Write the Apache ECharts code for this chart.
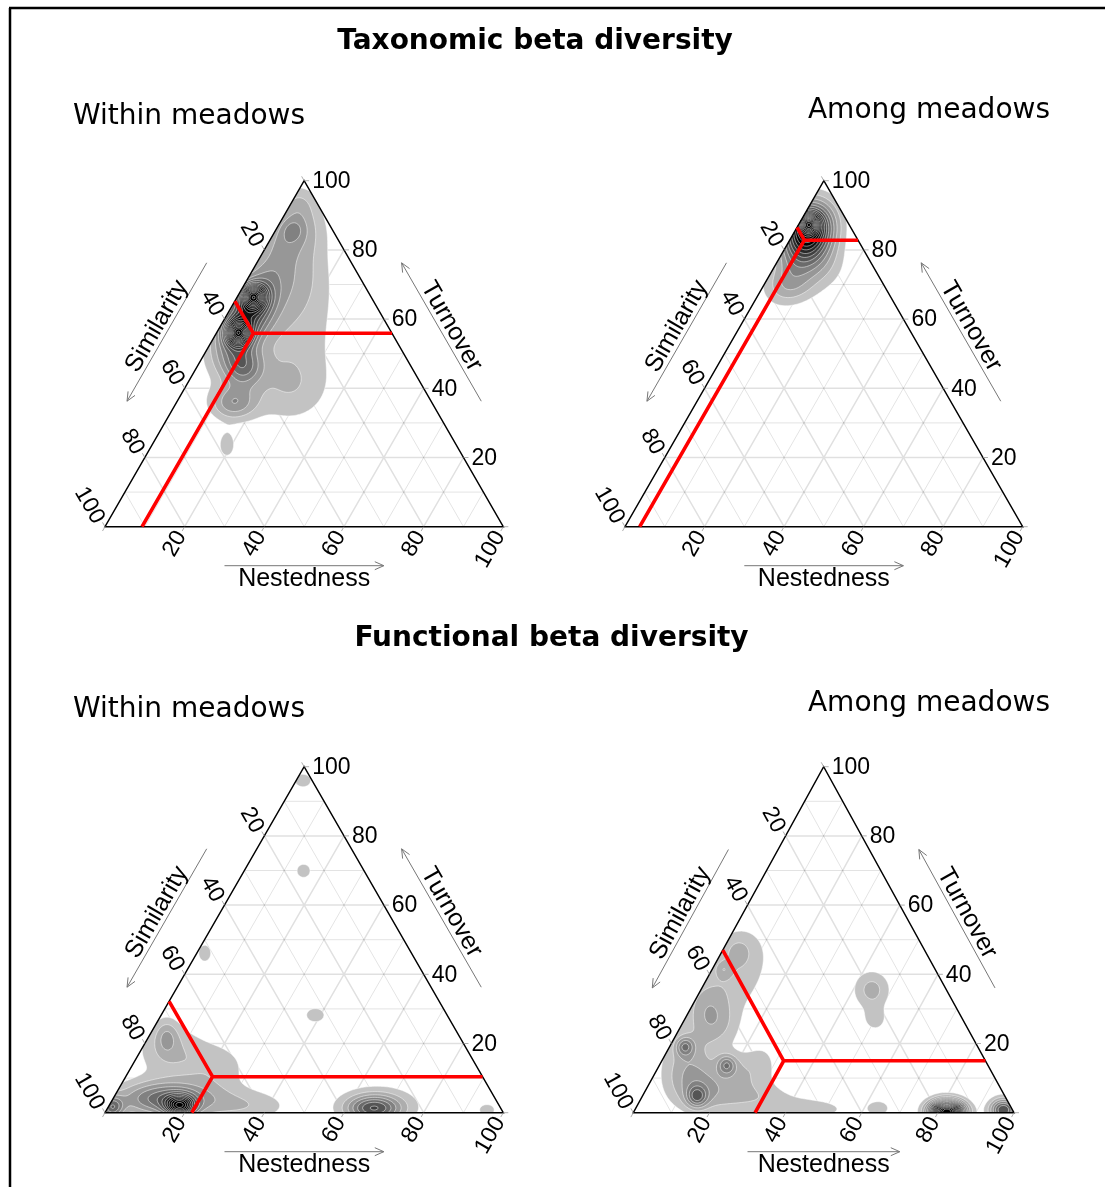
<!DOCTYPE html>
<html><head><meta charset="utf-8">
<script src="https://cdn.jsdelivr.net/npm/echarts@6.0.0/dist/echarts.min.js"></script>
<style>html,body{margin:0;padding:0;background:#fff;}#chart{width:1105px;height:1187px;}</style>
</head><body><div id="chart"></div>
<script>
// ---------------- data ----------------
const sectionTitles = ['Taxonomic beta diversity', 'Functional beta diversity'];
const panelLabels = ['Within meadows', 'Among meadows', 'Within meadows', 'Among meadows'];
const axisNameLeft = 'Similarity';
const axisNameRight = 'Turnover';
const axisNameBottom = 'Nestedness';
const tickLabels = [20, 40, 60, 80, 100];
const tickMarks = [0, 20, 40, 60, 80, 100];
const gridValues = [10, 20, 30, 40, 50, 60, 70, 80, 90];

// mean composition: [similarity, turnover, nestedness]
const meanTaxWithin = [34.8, 55.9, 9.3];
const meanTaxAmong = [13.5, 82.8, 3.7];
const meanFunWithin = [67.8, 10.4, 21.8];
const meanFunAmong = [53.0, 15.0, 32.0];

// density kernels: [nestedness, turnover, weight, spreadA, spreadB, angleDeg]
const kdeTaxWithin = [
  [4.0, 66.5, 0.55, 2.0, 2.0, 0],
  [5.5, 55.9, 0.55, 2.0, 2.0, 0],
  [5.0, 61.0, 0.40, 8.0, 4.0, 60],
  [3.0, 84.0, 0.11, 6.0, 3.5, 60],
  [4.3, 85.7, 0.06, 2.0, 2.0, 0],
  [1.5, 94.0, 0.06, 3.0, 3.0, 0],
  [11.6, 46.2, 0.22, 3.5, 3.5, 0],
  [14.3, 35.8, 0.18, 4.0, 3.0, 0],
  [18.0, 58.0, 0.08, 8.0, 12.0, 0],
  [26.0, 40.0, 0.07, 7.0, 6.0, 0],
  [12.0, 74.0, 0.07, 5.0, 7.0, 0],
  [8.0, 86.0, 0.06, 4.0, 5.0, 0],
  [18.8, 23.6, 0.075, 1.8, 2.8, 0]
];
const kdeTaxAmong = [
  [2.5, 87.5, 0.45, 1.6, 1.6, 0],
  [3.0, 86.0, 0.55, 4.8, 4.2, 60],
  [5.0, 76.0, 0.13, 6.5, 3.8, 60],
  [11.0, 76.0, 0.09, 4.5, 4.5, 0],
  [7.0, 69.0, 0.07, 4.5, 3.0, 0]
];
const kdeFunWithin = [
  [17.9, 1.9, 0.45, 2.5, 1.8, 0],
  [13.0, 4.0, 0.28, 8.0, 3.0, 0],
  [1.0, 1.5, 0.25, 2.0, 2.0, 0],
  [4.5, 22.0, 0.10, 2.0, 3.0, 0],
  [7.0, 18.0, 0.09, 6.0, 5.0, 0],
  [21.0, 13.0, 0.08, 6.0, 4.5, 0],
  [34.0, 2.0, 0.09, 8.0, 3.0, 0],
  [1.7, 96.0, 0.08, 2.0, 1.6, 0],
  [14.9, 69.9, 0.075, 1.8, 1.8, 0],
  [2.0, 46.1, 0.07, 1.8, 2.4, 0],
  [38.7, 28.2, 0.075, 2.4, 1.8, 0],
  [66.8, 1.3, 0.28, 4.5, 2.2, 0],
  [68.0, 2.0, 0.08, 8.0, 4.0, 0],
  [95.5, 0.8, 0.07, 2.2, 1.6, 0]
];
const kdeFunAmong = [
  [82.2, 0.3, 0.9, 3.2, 2.0, 0],
  [96.8, 0.8, 0.35, 2.5, 2.0, 0],
  [63.7, 1.3, 0.075, 2.6, 1.7, 0],
  [44.9, 35.5, 0.12, 3.4, 3.4, 0],
  [50.0, 27.0, 0.075, 2.2, 2.2, 0],
  [4.0, 19.1, 0.18, 1.7, 1.7, 0],
  [17.6, 13.8, 0.18, 1.7, 1.7, 0],
  [14.4, 4.6, 0.20, 1.9, 1.9, 0],
  [8.0, 13.0, 0.12, 5.0, 6.0, 0],
  [16.0, 7.0, 0.10, 6.0, 4.0, 0],
  [7.0, 40.0, 0.08, 9.0, 6.0, 60],
  [4.0, 47.0, 0.06, 3.0, 3.0, 0],
  [2.9, 41.4, 0.07, 1.5, 1.5, 0],
  [4.0, 30.0, 0.09, 4.0, 5.0, 0],
  [10.0, 25.0, 0.06, 4.0, 4.0, 0],
  [22.0, 12.0, 0.07, 3.5, 3.5, 0],
  [30.0, 4.0, 0.08, 8.0, 3.0, 0],
  [47.0, 1.0, 0.07, 7.0, 2.0, 0],
  [27.0, 14.0, 0.06, 3.0, 4.0, 0]
];
const densityStep = 0.05;

const panels = [
  { mean: meanTaxWithin, kde: kdeTaxWithin },
  { mean: meanTaxAmong, kde: kdeTaxAmong },
  { mean: meanFunWithin, kde: kdeFunWithin },
  { mean: meanFunAmong, kde: kdeFunAmong }
];

// ---------------- layout ----------------
const gridRects = [
  { left: 105, top: 180.7, width: 398.3, height: 346 },
  { left: 625, top: 180.7, width: 397.7, height: 346 },
  { left: 105, top: 766.7, width: 398.3, height: 346 },
  { left: 633.3, top: 766.7, width: 380.7, height: 346 }
];
const TICK_FONT = '23px "Liberation Sans", Arial, sans-serif';
const NAME_FONT = '25px "Liberation Sans", Arial, sans-serif';
const SQ = Math.sqrt(3) / 2;

// ---------------- density ----------------
const planes = [p => p[1], p => 2 * p[0] - p[1], p => 200 - 2 * p[0] - p[1]];
function clipTri(poly) {
  for (const f of planes) {
    const out = [];
    for (let k = 0; k < poly.length; k++) {
      const A = poly[k], B = poly[(k + 1) % poly.length];
      const fa = f(A), fb = f(B);
      if (fa >= 0) out.push(A);
      if ((fa >= 0) !== (fb >= 0)) {
        const t = fa / (fa - fb);
        out.push([A[0] + t * (B[0] - A[0]), A[1] + t * (B[1] - A[1])]);
      }
    }
    poly = out;
    if (poly.length < 3) return poly;
  }
  return poly;
}
function inTri(p) { return p[1] >= -1e-9 && 2 * p[0] - p[1] >= -1e-9 && 200 - 2 * p[0] - p[1] >= -1e-9; }

function buildDensity(kde, step, H) {
  const n = Math.round(100 / H), W = n + 1;
  const v = new Float64Array(W * W);
  const ks = kde.map(k => {
    const a = k[5] * Math.PI / 180;
    return { cx: k[0] + k[1] / 2, cy: k[1] * SQ, w: k[2], ia: 1 / (k[3] * k[3]), ib: 1 / (k[4] * k[4]), c: Math.cos(a), s: Math.sin(a) };
  });
  let vmax = 0;
  for (let j = 0; j <= n; j++) {
    const Y = j * H * SQ;
    for (let i = 0; i <= n; i++) {
      const X = i * H;
      let s = 0;
      for (const k of ks) {
        const dx = X - k.cx, dy = Y - k.cy;
        const u = dx * k.c + dy * k.s, w = -dx * k.s + dy * k.c;
        const e = 0.5 * (u * u * k.ia + w * w * k.ib);
        if (e < 30) s += k.w * Math.exp(-e);
      }
      v[j * W + i] = s;
      if (s > vmax && 2 * X - j * H >= 0 && 200 - 2 * X - j * H >= 0) vmax = s;
    }
  }
  const nLev = Math.floor(vmax / step);
  const fills = [], lines = [];
  for (let L = 0; L < nLev; L++) { fills.push([]); lines.push([]); }
  const runStart = new Int32Array(nLev);
  for (let j = 0; j < n; j++) {
    const T0 = j * H, T1 = (j + 1) * H;
    runStart.fill(-1);
    for (let i = 0; i < n; i++) {
      const X0 = i * H, X1 = (i + 1) * H;
      const a = v[j * W + i], b = v[j * W + i + 1], c = v[(j + 1) * W + i + 1], d = v[(j + 1) * W + i];
      const outside = (2 * X1 - T0 < 0) || (200 - 2 * X0 - T0 < 0);
      const inside = (2 * X0 - T1 >= 0) && (200 - 2 * X1 - T1 >= 0);
      const mn = Math.min(a, b, c, d), mx = Math.max(a, b, c, d);
      const corners = [[X0, T0], [X1, T0], [X1, T1], [X0, T1]];
      const vals = [a, b, c, d];
      for (let L = 0; L < nLev; L++) {
        const th = (L + 1) * step;
        if (!outside && inside && mn >= th) { if (runStart[L] < 0) runStart[L] = i; continue; }
        if (runStart[L] >= 0) {
          const xs = runStart[L] * H;
          fills[L].push([[xs, T0], [X0, T0], [X0, T1], [xs, T1]]);
          runStart[L] = -1;
        }
        if (outside || mx < th) continue;
        let poly = [];
        const cross = [];
        for (let k = 0; k < 4; k++) {
          const A = corners[k], B = corners[(k + 1) % 4], va = vals[k], vb = vals[(k + 1) % 4];
          if (va >= th) poly.push(A);
          if ((va >= th) !== (vb >= th)) {
            const t = (th - va) / (vb - va);
            const q = [A[0] + t * (B[0] - A[0]), A[1] + t * (B[1] - A[1])];
            poly.push(q); cross.push(q);
          }
        }
        if (!inside) poly = clipTri(poly);
        if (poly.length >= 3) fills[L].push(poly);
        for (let k = 0; k + 1 < cross.length; k += 2) {
          if (inTri(cross[k]) && inTri(cross[k + 1])) lines[L].push([cross[k], cross[k + 1]]);
        }
      }
    }
    for (let L = 0; L < nLev; L++) {
      if (runStart[L] >= 0) {
        const xs = runStart[L] * H, xe = n * H;
        fills[L].push([[xs, T0], [xe, T0], [xe, T1], [xs, T1]]);
      }
    }
  }
  return { fills, lines, nLev };
}
const densityCache = {};
function getDensity(idx) {
  if (!densityCache[idx]) densityCache[idx] = buildDensity(panels[idx].kde, densityStep, 0.4);
  return densityCache[idx];
}

// ---------------- rendering ----------------
function makeRender(idx) {
  return function (params, api) {
    const c0 = api.coord([0, 0]), c1 = api.coord([100, 100]);
    const kx = (c1[0] - c0[0]) / 100, ky = (c1[1] - c0[1]) / 100;
    const P = (X, T) => [c0[0] + X * kx, c0[1] + T * ky];
    const tern = (S, T, N) => P(N + T / 2, T);
    const f2 = x => x.toFixed(2);
    const children = [];
    const BL = tern(100, 0, 0), BR = tern(0, 0, 100), AP = tern(0, 100, 0);
    const sub = (p, q) => [p[0] - q[0], p[1] - q[1]];
    const add = (p, q, s) => [p[0] + q[0] * s, p[1] + q[1] * s];
    const unit = p => { const l = Math.hypot(p[0], p[1]); return [p[0] / l, p[1] / l]; };
    const seg = (p, q) => 'M' + f2(p[0]) + ' ' + f2(p[1]) + 'L' + f2(q[0]) + ' ' + f2(q[1]);

    // grid lines
    let major = '', minor = '';
    for (const g of gridValues) {
      const s = seg(tern(100 - g, g, 0), tern(0, g, 100 - g)) +
                seg(tern(100 - g, 0, g), tern(0, 100 - g, g)) +
                seg(tern(g, 0, 100 - g), tern(g, 100 - g, 0));
      if (g % 20 === 0) major += s; else minor += s;
    }
    children.push({ type: 'path', z2: 1, shape: { pathData: minor }, style: { fill: 'none', stroke: 'rgba(0,0,0,0.16)', lineWidth: 0.7 } });
    children.push({ type: 'path', z2: 2, shape: { pathData: major }, style: { fill: 'none', stroke: 'rgba(0,0,0,0.12)', lineWidth: 1.5 } });

    // density
    const dens = getDensity(idx);
    let allLines = '';
    for (let L = 0; L < dens.nLev; L++) {
      let s = '';
      for (const poly of dens.fills[L]) {
        for (let k = 0; k < poly.length; k++) {
          const q = P(poly[k][0], poly[k][1]);
          s += (k ? 'L' : 'M') + f2(q[0]) + ' ' + f2(q[1]);
        }
        s += 'Z';
      }
      const gv = Math.max(0, Math.round(195 - 22 * L));
      if (s) children.push({ type: 'path', z2: 10 + L, shape: { pathData: s }, style: { fill: 'rgb(' + gv + ',' + gv + ',' + gv + ')', stroke: null } });
      for (const sg of dens.lines[L]) allLines += seg(P(sg[0][0], sg[0][1]), P(sg[1][0], sg[1][1]));
    }
    if (allLines) children.push({ type: 'path', z2: 60, shape: { pathData: allLines }, style: { fill: 'none', stroke: 'rgba(255,255,255,0.7)', lineWidth: 0.7 } });

    // triangle outline
    children.push({ type: 'polygon', z2: 70, shape: { points: [BL, BR, AP] }, style: { fill: 'none', stroke: '#000', lineWidth: 1.5 } });

    // mean composition lines
    const m = panels[idx].mean; // [S, T, N]
    const M = tern(m[0], m[1], m[2]);
    const red = seg(M, tern(0, m[1], 100 - m[1])) + seg(M, tern(100 - m[2], 0, m[2])) + seg(M, tern(m[0], 100 - m[0], 0));
    children.push({ type: 'path', z2: 80, shape: { pathData: red }, style: { fill: 'none', stroke: '#ff0000', lineWidth: 3.6, lineJoin: 'miter' } });

    // tick directions (parallel to the grid lines of each axis)
    const dS = unit(sub(AP, BR));
    const dN = unit(sub(BL, AP));
    const dT = unit(sub(BR, BL));
    let ticks = '';
    for (const t of tickMarks) {
      const eS = tern(t, 100 - t, 0), eN = tern(100 - t, 0, t), eT = tern(0, t, 100 - t);
      ticks += seg(eS, add(eS, dS, 5)) + seg(eN, add(eN, dN, 5)) + seg(eT, add(eT, dT, 5));
    }
    children.push({ type: 'path', z2: 75, shape: { pathData: ticks }, style: { fill: 'none', stroke: '#999', lineWidth: 0.8 } });

    const txt = (text, p, rot, align, font) => ({
      type: 'text', z2: 90, x: p[0], y: p[1], rotation: rot,
      style: { text: String(text), font: font || TICK_FONT, fill: '#000', align: align, verticalAlign: 'middle' }
    });
    const rS = Math.atan2(dS[1], -dS[0]);
    const downS = [Math.sin(rS), Math.cos(rS)];
    const rN = Math.atan2(dN[1], -dN[0]);
    for (const t of tickLabels) {
      const eS = tern(t, 100 - t, 0);
      children.push(txt(t, add(add(eS, dS, 7), downS, 3), rS, 'right'));
      const eN = tern(100 - t, 0, t);
      children.push(txt(t, add(eN, dN, 7), rN, 'right'));
      const eT = tern(0, t, 100 - t);
      children.push(txt(t, [eT[0] + 8, eT[1] + 1], 0, 'left'));
    }

    // axis names + arrows
    let arrows = '';
    const arrow = (p, q) => {
      const u = unit(sub(q, p)), n = [-u[1], u[0]];
      const b = add(q, u, -9);
      return seg(p, q) + seg(add(b, n, 4), q) + seg(add(b, n, -4), q);
    };
    const nB = [0, 1];
    arrows += arrow(add(add(BL, sub(BR, BL), 0.3), nB, 39), add(add(BL, sub(BR, BL), 0.7), nB, 39));
    children.push(txt(axisNameBottom, add(add(BL, sub(BR, BL), 0.5), nB, 52), 0, 'center', NAME_FONT));
    const vR = sub(AP, BR), uR = unit(vR), nR = [-uR[1], uR[0]];
    const nRo = nR[0] > 0 ? nR : [-nR[0], -nR[1]];
    arrows += arrow(add(add(BR, vR, 0.3), nRo, 43.5), add(add(BR, vR, 0.7), nRo, 43.5));
    const dirR = [-uR[0], -uR[1]];
    children.push(txt(axisNameRight, add(add(BR, vR, 0.5), nRo, 55), Math.atan2(-dirR[1], dirR[0]), 'center', NAME_FONT));
    const vL = sub(BL, AP), uL = unit(vL), nL = [-uL[1], uL[0]];
    const nLo = nL[0] < 0 ? nL : [-nL[0], -nL[1]];
    arrows += arrow(add(add(AP, vL, 0.3), nLo, 43.5), add(add(AP, vL, 0.7), nLo, 43.5));
    const dirL = [-uL[0], -uL[1]];
    children.push(txt(axisNameLeft, add(add(AP, vL, 0.5), nLo, 55), Math.atan2(-dirL[1], dirL[0]), 'center', NAME_FONT));
    children.push({ type: 'path', z2: 85, shape: { pathData: arrows }, style: { fill: 'none', stroke: '#777', lineWidth: 1 } });

    return { type: 'group', children: children };
  };
}

const chart = echarts.init(document.getElementById('chart'), null, { renderer: 'canvas' });
const option = {
  animation: false,
  backgroundColor: '#fff',
  grid: gridRects.map(r => ({ left: r.left, top: r.top, width: r.width, height: r.height, containLabel: false, show: false })),
  xAxis: gridRects.map((r, i) => ({ gridIndex: i, type: 'value', min: 0, max: 100, show: false })),
  yAxis: gridRects.map((r, i) => ({ gridIndex: i, type: 'value', min: 0, max: 100, show: false })),
  series: panels.map((p, i) => ({
    type: 'custom', xAxisIndex: i, yAxisIndex: i, silent: true, clip: false,
    data: [[0, 0]], renderItem: makeRender(i)
  })),
  graphic: [
    { type: 'line', shape: { x1: 9, y1: 8, x2: 1105, y2: 8 }, style: { stroke: '#000', lineWidth: 2.5 } },
    { type: 'line', shape: { x1: 10, y1: 8, x2: 10, y2: 1187 }, style: { stroke: '#000', lineWidth: 2.5 } },
    { type: 'text', x: 535, y: 42, style: { text: sectionTitles[0], font: 'bold 28px "DejaVu Sans"', fill: '#000', align: 'center', verticalAlign: 'middle' } },
    { type: 'text', x: 551.5, y: 639, style: { text: sectionTitles[1], font: 'bold 28px "DejaVu Sans"', fill: '#000', align: 'center', verticalAlign: 'middle' } },
    { type: 'text', x: 73, y: 117, style: { text: panelLabels[0], font: '28px "DejaVu Sans"', fill: '#000', align: 'left', verticalAlign: 'middle' } },
    { type: 'text', x: 1050, y: 111, style: { text: panelLabels[1], font: '28px "DejaVu Sans"', fill: '#000', align: 'right', verticalAlign: 'middle' } },
    { type: 'text', x: 73, y: 710, style: { text: panelLabels[2], font: '28px "DejaVu Sans"', fill: '#000', align: 'left', verticalAlign: 'middle' } },
    { type: 'text', x: 1050, y: 704, style: { text: panelLabels[3], font: '28px "DejaVu Sans"', fill: '#000', align: 'right', verticalAlign: 'middle' } }
  ]
};
chart.setOption(option);
</script></body></html>
